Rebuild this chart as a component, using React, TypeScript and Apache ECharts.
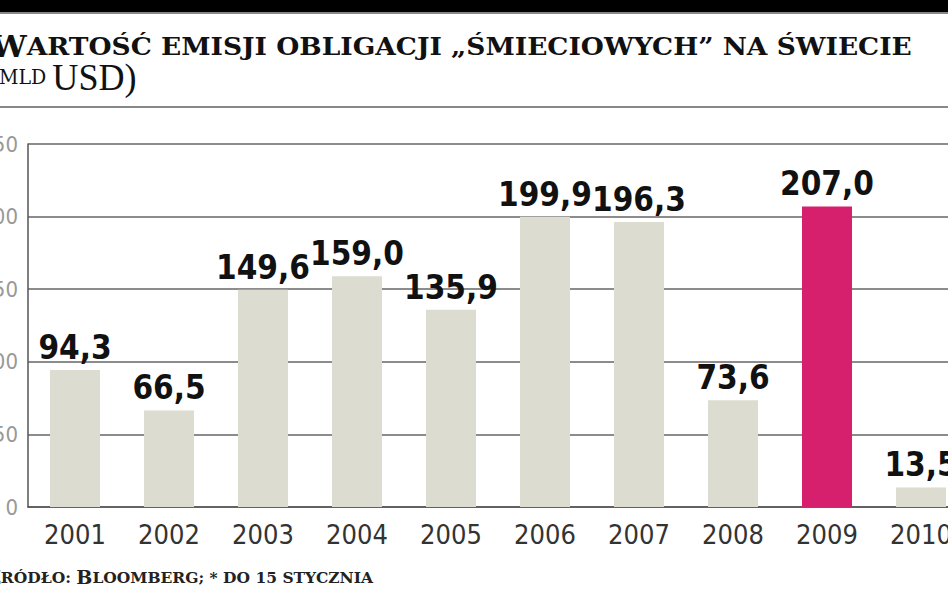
import React, { useEffect, useRef } from "react";
import * as echarts from "echarts";

const years = ["2001", "2002", "2003", "2004", "2005", "2006", "2007", "2008", "2009", "2010"];
const values = [94.3, 66.5, 149.6, 159.0, 135.9, 199.9, 196.3, 73.6, 207.0, 13.5];
const highlightYear = "2009";
const yTicks = [0, 50, 100, 150, 200, 250];

const NARROW = '"DejaVu Sans Condensed", "Liberation Sans Narrow", Roboto, sans-serif';
const SLAB = '"DejaVu Serif", "Liberation Serif", serif';

export default function App() {
  const ref = useRef<HTMLDivElement>(null);
  useEffect(() => {
    document.body.style.margin = "0";
    const chart = echarts.init(ref.current!, null, { renderer: "svg" });
    chart.setOption({
      animation: false,
      backgroundColor: "#ffffff",
      grid: { left: 28, top: 144, width: 940, height: 363, containLabel: false, outerBoundsMode: "none" },
      xAxis: {
        type: "category",
        data: years,
        axisLine: { show: true, lineStyle: { color: "#555", width: 1.5 } },
        axisTick: { show: false },
        axisLabel: { color: "#333", fontSize: 27, fontFamily: NARROW, margin: 14 },
      },
      yAxis: {
        type: "value",
        min: yTicks[0],
        max: yTicks[yTicks.length - 1],
        interval: 50,
        axisLine: { show: true, lineStyle: { color: "#555", width: 1.5 } },
        axisTick: { show: false },
        splitLine: { show: true, lineStyle: { color: "#666", width: 1.5 } },
        axisLabel: { color: "#999", fontSize: 22, fontFamily: NARROW, margin: 10 },
      },
      series: [
        {
          type: "bar",
          barWidth: 50,
          data: values.map((v, i) => ({
            value: v,
            itemStyle: { color: years[i] === highlightYear ? "#d61f6d" : "#dcdcd0" },
          })),
          label: {
            show: true,
            position: "top",
            distance: 6,
            color: "#111",
            fontSize: 33,
            fontWeight: "bold",
            fontFamily: NARROW,
            formatter: (p: any) => p.value.toFixed(1).replace(".", ","),
          },
        },
      ],
      graphic: [
        { type: "rect", left: 0, top: 0, shape: { width: 948, height: 12 }, style: { fill: "#000" } },
        { type: "rect", left: 0, top: 12, shape: { width: 948, height: 2 }, style: { fill: "#888" } },
        {
          type: "text",
          x: -9,
          y: 46,
          scaleX: 1.06,
          style: {
            text: "{b|W}{s|ARTOŚĆ EMISJI OBLIGACJI „ŚMIECIOWYCH” NA ŚWIECIE}",
            verticalAlign: "middle",
            rich: {
              b: { fontSize: 30, fontWeight: "bold", fontFamily: SLAB, fill: "#111" },
              s: { fontSize: 25, fontWeight: "bold", fontFamily: SLAB, fill: "#111" },
            },
          },
        },
        {
          type: "text",
          x: -13,
          y: 77,
          scaleX: 0.95,
          style: {
            text: "{p|(}{s|MLD }{p|USD)}",
            verticalAlign: "middle",
            rich: {
              p: { fontSize: 38, fontFamily: '"Liberation Serif", serif', fill: "#111" },
              s: { fontSize: 20, fontFamily: SLAB, fill: "#111" },
            },
          },
        },
        { type: "rect", left: 0, top: 106, shape: { width: 948, height: 2 }, style: { fill: "#888" } },
        {
          type: "text",
          x: -13,
          y: 577,
          style: {
            text: "{b|Ź}{s|RÓDŁO: }{b|B}{s|LOOMBERG; * DO 15 STYCZNIA}",
            verticalAlign: "middle",
            rich: {
              b: { fontSize: 19, fontWeight: "bold", fontFamily: SLAB, fill: "#222" },
              s: { fontSize: 15.5, fontWeight: "bold", fontFamily: SLAB, fill: "#222" },
            },
          },
        },
      ],
    });
    return () => chart.dispose();
  }, []);
  return <div ref={ref} style={{ position: "fixed", left: 0, top: 0, width: 948, height: 593 }} />;
}
